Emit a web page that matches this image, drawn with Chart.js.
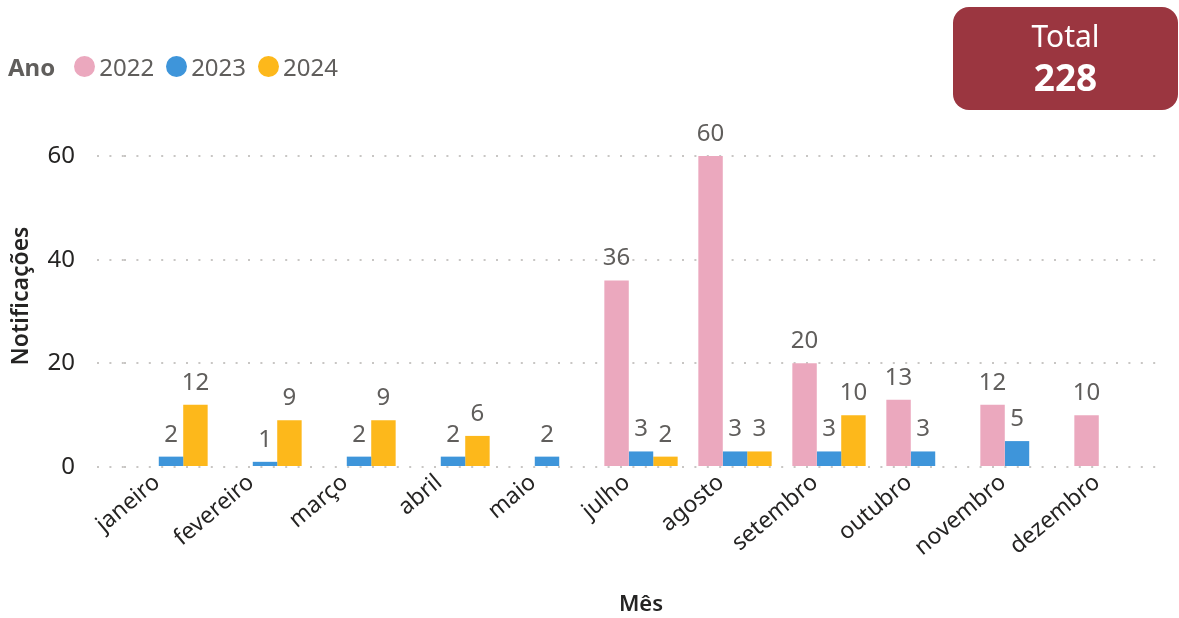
<!DOCTYPE html>
<html>
<head>
<meta charset="utf-8">
<script src="https://cdn.jsdelivr.net/npm/chart.js@4/dist/chart.umd.min.js"></script>
<style>
  html, body { margin: 0; padding: 0; width: 1179px; height: 618px; overflow: hidden; background: #fff; font-family: "Noto Sans", sans-serif; }
  #wrap { position: absolute; left: 0; top: 0; width: 1179px; height: 618px; }
  #legend { position: absolute; left: 8px; top: 49px; height: 34px; display: flex; align-items: center; font-size: 24px; color: #605E5C; }
  #legend .title { font-weight: bold; font-size: 24px; margin-right: 19px; }
  #legend .item { display: flex; align-items: center; margin-right: 12px; }
  #legend .dot { width: 21px; height: 21px; border-radius: 50%; margin-right: 4px; }
  #card { position: absolute; left: 953px; top: 7px; width: 225px; height: 103px; background: #9B3640; border-radius: 16px; color: #fff; text-align: center; }
  #card .lbl { position: absolute; left: 0; right: 0; top: 11px; font-size: 30px; line-height: 36px; }
  #card .val { position: absolute; left: 0; right: 0; top: 48px; font-size: 37px; line-height: 44px; font-weight: bold; }
</style>
</head>
<body>
<div id="wrap"><canvas id="c" width="1179" height="618"></canvas></div>
<div id="legend"></div>
<div id="card"><div class="lbl">Total</div><div class="val" id="total"></div></div>
<script>
const months = ["janeiro","fevereiro","março","abril","maio","julho","agosto","setembro","outubro","novembro","dezembro"];
const years = ["2022","2023","2024"];
const v2022 = [null,null,null,null,null,36,60,20,13,12,10];
const v2023 = [2,1,2,2,2,3,3,3,3,5,null];
const v2024 = [12,9,9,6,null,2,3,10,null,null,null];
const yTicks = [0,20,40,60];
const colors = ["#EBA8BE","#3E95DA","#FDB81B"];

const series = [v2022, v2023, v2024];
const total = series.reduce((s, arr) => s + arr.reduce((a, b) => a + (b || 0), 0), 0);
document.getElementById('total').textContent = total;

const legend = document.getElementById('legend');
legend.innerHTML = '<span class="title">Ano</span>' + years.map((y, i) =>
  `<span class="item"><span class="dot" style="background:${colors[i]}"></span>${y}</span>`).join('');

const labelPlugin = {
  id: 'valueLabels',
  afterDatasetsDraw(chart) {
    const ctx = chart.ctx;
    ctx.save();
    ctx.font = '24px "Noto Sans"';
    ctx.fillStyle = '#605E5C';
    ctx.textAlign = 'center';
    ctx.textBaseline = 'alphabetic';
    chart.data.datasets.forEach((ds, di) => {
      const meta = chart.getDatasetMeta(di);
      meta.data.forEach((el, i) => {
        const v = ds.data[i];
        if (v === null || v === undefined) return;
        ctx.fillText(String(v), el.x, el.y - 15);
      });
    });
    ctx.restore();
  }
};

new Chart(document.getElementById('c'), {
  type: 'bar',
  data: {
    labels: months,
    datasets: years.map((y, i) => ({
      label: y,
      data: series[i],
      backgroundColor: colors[i],
      categoryPercentage: 0.78,
      barPercentage: 1.0
    }))
  },
  options: {
    responsive: false,
    animation: false,
    layout: { padding: { left: 0, right: 21, top: 125, bottom: 0 } },
    plugins: { legend: { display: false }, tooltip: { enabled: false } },
    scales: {
      x: {
        grid: { display: false, drawTicks: false },
        border: { display: false },
        ticks: {
          color: '#252423',
          font: { family: 'Noto Sans', size: 23 },
          minRotation: 40, maxRotation: 40,
          padding: 2,
          labelOffset: -14
        },
        title: {
          display: true, text: 'Mês', color: '#252423',
          font: { family: 'Noto Sans', size: 22, weight: '600' },
          padding: { top: 0, bottom: 0 }
        },
        afterFit(scale) { scale.height = 151; }
      },
      y: {
        min: 0, max: 66,
        border: { display: false, dash: [2, 10.4] },
        grid: {
          color: '#C8C6C4', lineWidth: 2,
          drawTicks: true, tickLength: 27, tickColor: '#C8C6C4', tickWidth: 2, tickBorderDash: [2, 10.4]
        },
        ticks: {
          color: '#252423',
          font: { family: 'Noto Sans', size: 24 },
          padding: 22
        },
        afterBuildTicks(scale) { scale.ticks = yTicks.map(v => ({ value: v })); },
        title: {
          display: true, text: 'Notificações', color: '#252423',
          font: { family: 'Noto Sans', size: 23, weight: '600' },
          padding: { top: 8, bottom: 0 }
        },
        afterFit(scale) { scale.width = 124; }
      }
    }
  },
  plugins: [labelPlugin]
});
</script>
</body>
</html>
